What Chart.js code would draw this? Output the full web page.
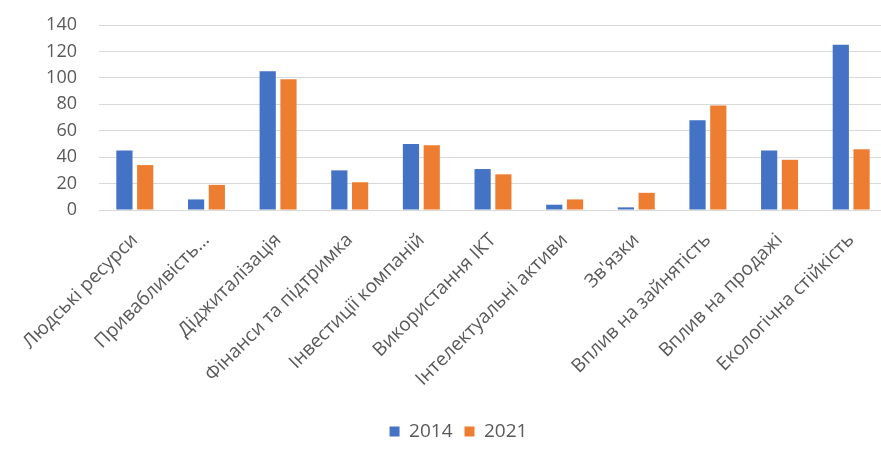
<!DOCTYPE html>
<html>
<head>
<meta charset="utf-8">
<script src="https://cdn.jsdelivr.net/npm/chart.js@4/dist/chart.umd.min.js"></script>
<style>
  html, body { margin: 0; padding: 0; background: #fff; overflow: hidden; }
  #wrap { width: 887px; height: 459px; }
</style>
</head>
<body>
<div id="wrap"><canvas id="chart"></canvas></div>
<script>
var categorias = ['Людські ресурси', 'Привабливість…', 'Діджиталізація', 'Фінанси та підтримка',
  'Інвестиції компаній', 'Використання ІКТ', 'Інтелектуальні активи', 'Зв\'язки',
  'Вплив на зайнятість', 'Вплив на продажі', 'Екологічна стійкість'];
var valores2014 = [45, 8, 105, 30, 50, 31, 4, 2, 68, 45, 125];
var valores2021 = [34, 19, 99, 21, 49, 27, 8, 13, 79, 38, 46];
var ticksY = [0, 20, 40, 60, 80, 100, 120, 140];

Chart.defaults.font.family = '"Open Sans", sans-serif';
Chart.defaults.color = '#595959';

var dados = {
  labels: categorias,
  datasets: [
    { label: '2014', data: valores2014, backgroundColor: '#4472C4' },
    { label: '2021', data: valores2021, backgroundColor: '#ED7D31' }
  ]
};

var chart = new Chart(document.getElementById('chart'), {
  type: 'bar',
  data: dados,
  options: {
    responsive: true,
    maintainAspectRatio: false,
    animation: false,
    categoryPercentage: 0.58,
    barPercentage: 0.78,
    layout: { padding: { left: 30, right: 0, top: 0, bottom: 8 } },
    plugins: {
      tooltip: { enabled: false },
      legend: {
        position: 'bottom',
        labels: { boxWidth: 10, boxHeight: 10, padding: 12, font: { size: 19 }, color: '#595959' }
      }
    },
    scales: {
      x: {
        grid: { display: false },
        border: { display: true, color: '#d9d9d9' },
        ticks: { minRotation: 45, maxRotation: 45, autoSkip: false, font: { size: 19 }, padding: 11 },
        afterFit: function (scale) { scale.height = 200; }
      },
      y: {
        min: 0,
        max: 140,
        afterBuildTicks: function (scale) { scale.ticks = ticksY.map(function (v) { return { value: v }; }); },
        grid: { color: '#d9d9d9', drawTicks: false },
        border: { display: false },
        ticks: { padding: 22, font: { size: 18 } },
        afterFit: function (scale) { scale.width = 69; scale.paddingTop = 25; }
      }
    }
  }
});
</script>
</body>
</html>
